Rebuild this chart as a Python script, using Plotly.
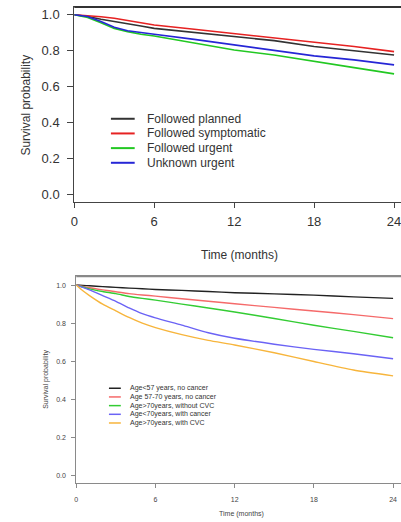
import plotly.graph_objects as go

W, H = 401, 522

# ---------------- data ----------------
top_names = ["Followed planned", "Followed symptomatic", "Followed urgent", "Unknown urgent"]
top_colors = ["#333333", "#e62222", "#22c822", "#2626d6"]
top_t = [0, 1, 2, 3, 4, 5, 6, 9, 12, 15, 18, 21, 24]
top_planned = [1.0, 0.99, 0.975, 0.961, 0.948, 0.937, 0.924, 0.902, 0.878, 0.856, 0.823, 0.800, 0.776]
top_symptomatic = [1.0, 0.996, 0.989, 0.980, 0.967, 0.952, 0.943, 0.919, 0.896, 0.872, 0.847, 0.823, 0.795]
top_urgent = [1.0, 0.985, 0.955, 0.924, 0.906, 0.891, 0.882, 0.845, 0.804, 0.776, 0.739, 0.706, 0.671]
top_unknown = [1.0, 0.99, 0.962, 0.930, 0.911, 0.900, 0.891, 0.863, 0.832, 0.804, 0.771, 0.749, 0.721]
top_series = [top_planned, top_symptomatic, top_urgent, top_unknown]

bot_names = ["Age<57 years, no cancer", "Age 57-70 years, no cancer", "Age>70years, without CVC",
             "Age<70years, with cancer", "Age>70years, with CVC"]
bot_colors = ["#222222", "#f56a6a", "#33cc33", "#6b63f5", "#f7b53c"]
bot_t = [0, 0.5, 1, 2, 3, 4, 5, 6, 8, 10, 12, 15, 18, 21, 24]
bot_young = [1.0, 0.998, 0.996, 0.992, 0.988, 0.984, 0.981, 0.977, 0.972, 0.966, 0.960, 0.954, 0.947, 0.938, 0.930]
bot_mid = [1.0, 0.993, 0.986, 0.975, 0.965, 0.955, 0.948, 0.942, 0.928, 0.915, 0.902, 0.883, 0.864, 0.845, 0.824]
bot_old_nocvc = [1.0, 0.99, 0.98, 0.966, 0.955, 0.940, 0.930, 0.921, 0.900, 0.880, 0.859, 0.825, 0.789, 0.757, 0.724]
bot_cancer = [1.0, 0.988, 0.975, 0.945, 0.915, 0.880, 0.850, 0.828, 0.790, 0.750, 0.721, 0.690, 0.663, 0.640, 0.614]
bot_old_cvc = [1.0, 0.970, 0.945, 0.900, 0.865, 0.830, 0.800, 0.777, 0.740, 0.710, 0.686, 0.645, 0.599, 0.555, 0.524]
bot_series = [bot_young, bot_mid, bot_old_nocvc, bot_cancer, bot_old_cvc]

x_ticks = [0, 6, 12, 18, 24]
y_ticks = [0.0, 0.2, 0.4, 0.6, 0.8, 1.0]
x_title = "Time (months)"
y_title = "Survival probability"

FONT = "Liberation Sans, Arial, sans-serif"

def px(x):
    return x / W

def py(y):
    return 1 - y / H

fig = go.Figure()

for name, col, vals in zip(top_names, top_colors, top_series):
    fig.add_trace(go.Scatter(x=top_t, y=vals, mode="lines", name=name,
                             line=dict(color=col, width=1.6), xaxis="x", yaxis="y",
                             showlegend=False))
for name, col, vals in zip(bot_names, bot_colors, bot_series):
    fig.add_trace(go.Scatter(x=bot_t, y=vals, mode="lines", name=name,
                             line=dict(color=col, width=1.4, shape="spline", smoothing=0.6),
                             xaxis="x2", yaxis="y2", showlegend=False))

# axis geometry (pixels)
top_left, top_top, top_bot, top_x24 = 71, 7, 202, 394
bot_left, bot_top, bot_bot, bot_x24 = 73, 277, 484, 393

top_xmax = 24 * (W - top_left) / (top_x24 - top_left)
bot_xmax = 24 * (W - bot_left) / (bot_x24 - bot_left)

ax_common = dict(showgrid=False, zeroline=False, showline=True, ticks="outside",
                 fixedrange=True, ticklabeloverflow="allow")

fig.update_layout(
    width=W, height=H, margin=dict(l=0, r=0, t=0, b=0),
    paper_bgcolor="white", plot_bgcolor="white",
    font=dict(family=FONT),
    xaxis=dict(domain=[px(top_left), 1], range=[0, top_xmax], anchor="y",
               tickvals=x_ticks, ticktext=[str(v) for v in x_ticks],
               linecolor="#444", linewidth=1, mirror=True, tickcolor="#444",
               ticklen=5, tickfont=dict(size=13, color="#333"), ticklabelstandoff=3, **ax_common),
    yaxis=dict(domain=[py(top_bot), py(top_top)], range=[-0.039, 1.043], anchor="x",
               tickvals=y_ticks, ticktext=[f"{v:.1f}" for v in y_ticks],
               linecolor="#444", linewidth=1, tickcolor="#444",
               ticklen=6, tickfont=dict(size=13, color="#333"), ticklabelstandoff=5, **ax_common),
    xaxis2=dict(domain=[px(bot_left), 1], range=[0, bot_xmax], anchor="y2",
                tickvals=x_ticks, ticktext=[str(v) for v in x_ticks],
                linecolor="#8a8a8a", linewidth=1, mirror=True, tickcolor="#8a8a8a",
                ticklen=4, tickfont=dict(size=7, color="#444"), ticklabelstandoff=6, **ax_common),
    yaxis2=dict(domain=[py(bot_bot), py(bot_top)], range=[-0.038, 1.045], anchor="x2",
                tickvals=y_ticks, ticktext=[f"{v:.1f}" for v in y_ticks],
                linecolor="#8a8a8a", linewidth=1, tickcolor="#8a8a8a",
                ticklen=4, tickfont=dict(size=7, color="#444"), ticklabelstandoff=4, **ax_common),
)

annotations = []
shapes = []

# top borders of the plot boxes
shapes.append(dict(type="line", xref="paper", yref="paper", x0=px(top_left), x1=1,
                   y0=py(top_top), y1=py(top_top), layer="above",
                   line=dict(color="#333333", width=2)))
shapes.append(dict(type="line", xref="paper", yref="paper", x0=px(bot_left), x1=1,
                   y0=py(bot_top), y1=py(bot_top), layer="above",
                   line=dict(color="#888888", width=1.5)))

# axis titles
annotations.append(dict(text=x_title, x=px(238), y=py(255), xref="paper", yref="paper",
                        showarrow=False, xanchor="center", yanchor="middle",
                        font=dict(size=12, color="#333", family=FONT)))
annotations.append(dict(text=y_title, x=px(22), y=py(105), xref="paper", yref="paper",
                        showarrow=False, xanchor="center", yanchor="middle", textangle=-90,
                        font=dict(size=12, color="#333", family=FONT)))
annotations.append(dict(text=x_title, x=px(240), y=py(515), xref="paper", yref="paper",
                        showarrow=False, xanchor="center", yanchor="middle",
                        font=dict(size=7, color="#444444", family=FONT)))
annotations.append(dict(text=y_title, x=px(43), y=py(380), xref="paper", yref="paper",
                        showarrow=False, xanchor="center", yanchor="middle", textangle=-90,
                        font=dict(size=7, color="#444444", family=FONT)))

# manual legends (layout positions)
def add_legend(names, colors, x0, x1, xt, y0, dy, fsize, width):
    for i, (n, c) in enumerate(zip(names, colors)):
        yy = y0 + i * dy
        shapes.append(dict(type="line", xref="paper", yref="paper",
                           x0=px(x0), x1=px(x1), y0=py(yy), y1=py(yy),
                           line=dict(color=c, width=width)))
        annotations.append(dict(text=n, x=px(xt), y=py(yy), xref="paper", yref="paper",
                                showarrow=False, xanchor="left", yanchor="middle",
                                font=dict(size=fsize, color="#333", family=FONT)))

add_legend(top_names, top_colors, 108, 132, 142, 119, 14.7, 12, 2)
add_legend(bot_names, bot_colors, 106, 118, 125, 389, 8.7, 7, 1.5)

fig.update_layout(annotations=annotations, shapes=shapes)

fig.write_html("out.html", config={"displayModeBar": False, "staticPlot": True},
               post_script="document.body.style.margin='0';document.body.style.overflow='hidden';")
